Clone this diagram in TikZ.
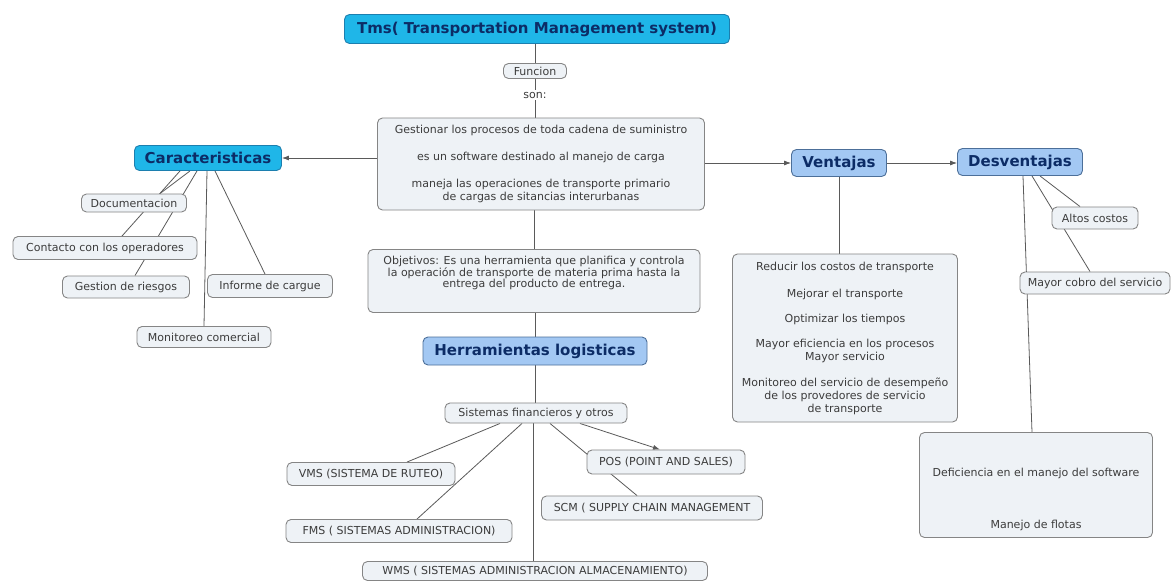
\documentclass[tikz,border=0pt]{standalone}
\usepackage{fontspec}
\setmainfont{DejaVu Sans}
\usetikzlibrary{arrows.meta,backgrounds}

\definecolor{boxfill}{HTML}{EEF2F6}
\definecolor{boxline}{HTML}{858585}
\definecolor{cyanhub}{HTML}{1FB6E8}
\definecolor{cyanline}{HTML}{1C7FAF}
\definecolor{bluehub}{HTML}{A3C8F3}
\definecolor{blueline}{HTML}{4C6F99}
\definecolor{navy}{HTML}{0C2C66}
\definecolor{txt}{HTML}{3C3C3C}
\definecolor{wirecol}{HTML}{5A5A5A}

\tikzset{
  smalltext/.style={font=\fontsize{11}{12.5}\selectfont},
  box/.style={draw=boxline, fill=boxfill, line width=0.9pt, rounded corners=5pt,
    inner sep=0pt, align=center, text=txt, smalltext},
  hubA/.style={box, fill=cyanhub, draw=cyanline, text=navy,
    font=\bfseries\fontsize{15}{17}\selectfont},
  hubB/.style={box, fill=bluehub, draw=blueline, text=navy,
    font=\bfseries\fontsize{15}{17}\selectfont},
  sz/.style 2 args={minimum width=#1pt, minimum height=#2pt},
  plain/.style={inner sep=0pt, align=center, text=txt, smalltext},
  wire/.style={draw=wirecol, line width=0.8pt},
  arr/.style={wire, -{Latex[length=7pt,width=5pt]}},
}

\begin{document}
\begin{tikzpicture}[x=1pt,y=-1pt]
\useasboundingbox (0,0) rectangle (1171,581);

% ---- top and centre ----
\node[hubA, sz={385}{29}] (title) at (537,29) {Tms( Transportation Management system)};
\node[box, sz={63}{15}] (funcion) at (535,71) {Funcion};
\node[plain, inner sep=2pt] (son) at (535,95) {son:};
\node[box, sz={327}{92}] (gest) at (541,164)
  {Gestionar los procesos de toda cadena de suministro\\[14.5pt]
   es un software destinado al manejo de carga\\[14.5pt]
   maneja las operaciones de transporte primario\\
   de cargas de sitancias interurbanas};

% ---- Caracteristicas ----
\node[hubA, sz={147}{25}] (car) at (208,158) {Caracteristicas};
\node[box, sz={105}{18}] (doc) at (134,203) {Documentacion};
\node[box, sz={184}{23}] (cont) at (105,248) {Contacto con los operadores};
\node[box, sz={127}{22}] (riesg) at (126,287) {Gestion de riesgos};
\node[box, sz={125}{23}] (inf) at (270,286) {Informe de cargue};
\node[box, sz={134}{21}] (mon) at (204,337) {Monitoreo comercial};

% ---- Ventajas / Desventajas ----
\node[hubB, sz={95}{27}] (ven) at (839,163) {Ventajas};
\node[hubB, sz={125}{27}] (des) at (1020,162) {Desventajas};
\node[box, sz={225}{168}, font=\fontsize{11}{13}\selectfont] (vlist) at (845,338)
  {Reducir los costos de transporte\\[14pt]
   Mejorar el transporte\\[12pt]
   Optimizar los tiempos\\[12pt]
   Mayor eficiencia en los procesos\\
   Mayor servicio\\[13pt]
   Monitoreo del servicio de desempeño\\
   de los provedores de servicio\\
   de transporte};
\node[box, sz={86}{22}] (altos) at (1095,218) {Altos costos};
\node[box, sz={150}{22}] (mayor) at (1095,283) {Mayor cobro del servicio};
\node[box, sz={233}{105}] (defic) at (1036,485) {};
\node[plain] (deftxt) at (1036,473) {Deficiencia en el manejo del software};
\node[plain] (flotas) at (1036,525) {Manejo de flotas};

% ---- Objetivos and tools ----
\node[box, sz={332}{63}] (obj) at (534,281) {};
\node[plain, anchor=north, font=\fontsize{11}{11.5}\selectfont] (objtxt) at (534,256)
  {Objetivos: Es una herramienta que planifica y controla\\
   la operación de transporte de materia prima hasta la\\
   entrega del producto de entrega.};
\node[hubB, sz={224}{28}] (herr) at (535,351) {Herramientas logisticas};
\node[box, sz={182}{20}] (sis) at (536,413) {Sistemas financieros y otros};
\node[box, sz={168}{23}] (vms) at (371,474) {VMS (SISTEMA DE RUTEO)};
\node[box, sz={226}{23}] (fms) at (399,531) {FMS ( SISTEMAS ADMINISTRACION)};
\node[box, sz={158}{24}] (pos) at (666,462) {POS (POINT AND SALES)};
\node[box, sz={221}{24}] (scm) at (652,508) {SCM ( SUPPLY CHAIN MANAGEMENT};
\node[box, sz={345}{19}] (wms) at (535,571) {WMS ( SISTEMAS ADMINISTRACION ALMACENAMIENTO)};

% ---- connectors, kept behind the boxes ----
\begin{pgfonlayer}{background}
  \fill[white] (0,0) rectangle (1171,581);
  \draw[wire] (title.south -| funcion.north) -- (funcion.north);
  \draw[wire] (funcion) -- (son);
  \draw[wire] (son) -- (son |- gest.north);

  \draw[arr] (gest.west |- car.east) -- (car.east);
  \draw[arr] (gest.east |- ven.west) -- (ven.west);
  \draw[arr] (ven.east) -- (des.west |- ven.east);

  \draw[wire] ([xshift=-18pt]car.south) -- ([xshift=26pt]doc.north);
  \draw[wire] ([xshift=-28pt]car.south) -- ([xshift=17pt]cont.north);
  \draw[wire] ([xshift=-11pt]car.south) -- ([xshift=9pt]riesg.north);
  \draw[wire] ([xshift=-1pt]car.south) -- (mon.north);
  \draw[wire] ([xshift=7pt]car.south) -- ([xshift=-5pt]inf.north);

  \draw[wire] (ven.south) -- (ven.south |- vlist.north);
  \draw[wire] ([xshift=3pt]des.south) -- ([xshift=-4pt]defic.north);
  \draw[wire] ([xshift=20pt]des.south) -- ([xshift=-15pt]altos.north);
  \draw[wire] ([xshift=12pt]des.south) -- ([xshift=-5pt]mayor.north);

  \draw[wire] (obj.north) -- (obj.north |- gest.south);
  \draw[wire] (obj.south -| herr.north) -- (herr.north);
  \draw[wire] (herr.south) -- (herr.south |- sis.north);
  \draw[wire] ([xshift=-3pt]sis.south) -- ([xshift=-2pt]wms.north);
  \draw[wire] ([xshift=-36pt]sis.south) -- ([xshift=36pt]vms.north);
  \draw[wire] ([xshift=-14pt]sis.south) -- ([xshift=18pt]fms.north);
  \draw[wire] ([xshift=14pt]sis.south) -- ([xshift=-15pt]scm.north);
  \draw[arr] ([xshift=44pt]sis.south) -- ([xshift=-6pt]pos.north);
\end{pgfonlayer}
\end{tikzpicture}
\end{document}
